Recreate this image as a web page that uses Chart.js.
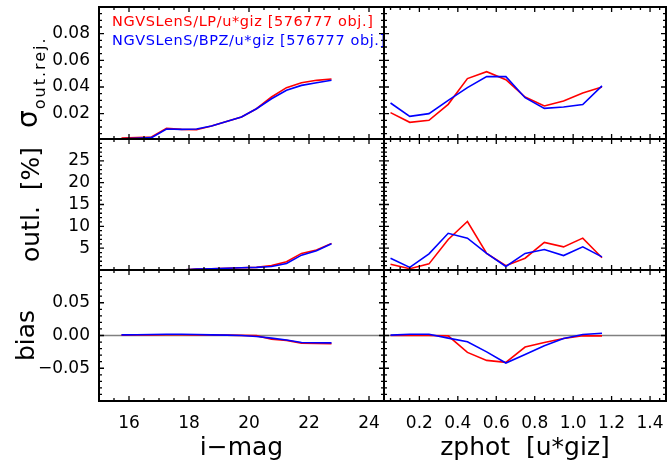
<!DOCTYPE html>
<html>
<head>
<meta charset="utf-8">
<script src="https://cdn.jsdelivr.net/npm/chart.js@4.4.1/dist/chart.umd.min.js"></script>
<style>
  html, body { margin: 0; padding: 0; background: #fff; }
  #fig { position: relative; width: 667px; height: 466px; }
  #fig canvas { position: absolute; left: 0; top: 0; }
</style>
</head>
<body>
<div id="fig"></div>
<script>
// i-mag bins (left column) and zphot bins (right column)
const magBins = [15.75, 16.25, 16.75, 17.25, 17.75, 18.25, 18.75, 19.25, 19.75, 20.25, 20.75, 21.25, 21.75, 22.25, 22.75];
const zBins = [0.05, 0.15, 0.25, 0.35, 0.45, 0.55, 0.65, 0.75, 0.85, 0.95, 1.05, 1.15];

const legendLabels = ['NGVSLenS/LP/u*giz [576777 obj.]', 'NGVSLenS/BPZ/u*giz [576777 obj.]'];

// sigma (outlier rejected)
const sigmaMagLP  = [0.0017, 0.0020, 0.0025, 0.0090, 0.0082, 0.0080, 0.0107, 0.0142, 0.0175, 0.0237, 0.0325, 0.0395, 0.0432, 0.0450, 0.0460];
const sigmaMagBPZ = [0.0012, 0.0015, 0.0020, 0.0085, 0.0082, 0.0085, 0.0107, 0.0142, 0.0175, 0.0237, 0.0312, 0.0375, 0.0412, 0.0432, 0.0450];
const sigmaZLP    = [0.0208, 0.0135, 0.0150, 0.0270, 0.0463, 0.0515, 0.0455, 0.0325, 0.0258, 0.0295, 0.0355, 0.0400];
const sigmaZBPZ   = [0.0280, 0.0180, 0.0200, 0.0300, 0.0395, 0.0478, 0.0478, 0.0320, 0.0240, 0.0250, 0.0268, 0.0408];

// outlier fraction [%]
const outlMagLP  = [0, 0, 0, 0, 0, 0.2, 0.3, 0.4, 0.5, 0.6, 1.0, 1.9, 3.8, 4.6, 6.1];
const outlMagBPZ = [0, 0, 0, 0, 0, 0.2, 0.3, 0.4, 0.5, 0.6, 0.8, 1.5, 3.4, 4.4, 6.0];
const outlZLP    = [1.3, 0.3, 1.4, 7.0, 11.1, 3.8, 1.0, 2.7, 6.3, 5.3, 7.3, 2.8];
const outlZBPZ   = [2.7, 0.6, 3.7, 8.4, 7.3, 3.8, 0.8, 3.8, 4.7, 3.3, 5.3, 3.0];

// bias
const biasMagLP  = [0.0005, 0.0008, 0.0010, 0.0012, 0.0012, 0.0010, 0.0008, 0.0005, 0.0002, -0.0002, -0.0058, -0.0075, -0.0116, -0.0120, -0.0124];
const biasMagBPZ = [0.0010, 0.0012, 0.0015, 0.0018, 0.0018, 0.0015, 0.0010, 0.0005, 0.0000, -0.0015, -0.0040, -0.0068, -0.0106, -0.0110, -0.0112];
const biasZLP    = [0.0000, 0.0000, 0.0000, -0.0005, -0.0258, -0.0380, -0.0410, -0.0177, -0.0106, -0.0045, -0.0005, -0.0005];
const biasZBPZ   = [0.0005, 0.0020, 0.0020, -0.0040, -0.0096, -0.0250, -0.0420, -0.0290, -0.0157, -0.0045, 0.0015, 0.0035];

// tick labels
const magTicks = [16, 18, 20, 22, 24];
const zTicks = [0.2, 0.4, 0.6, 0.8, 1.0, 1.2, 1.4];
const sigmaTicks = [0.02, 0.04, 0.06, 0.08];
const outlTicks = [5, 10, 15, 20, 25];
const biasTicks = [-0.05, 0, 0.05];

Chart.defaults.font.family = "'DejaVu Sans', sans-serif";
Chart.defaults.color = '#000';

const FIG_W = 667, FIG_H = 466;
const COLS = [[99, 384], [384, 666]];
const ROWS = [[7, 139], [139, 270], [270, 401]];

function stepValues(min, max, step) {
    const out = [];
    const n0 = Math.ceil(min / step - 1e-6), n1 = Math.floor(max / step + 1e-6);
    for (let n = n0; n <= n1; n++) out.push(n * step);
    return out;
}

// IDL-like box: inward major/minor ticks on all four sides, zero line, legend, sigma title
const idlFrame = {
    id: 'idlFrame',
    beforeDatasetsDraw(chart, args, opts) {
        if (!opts.zeroLine) return;
        const { ctx, chartArea: a } = chart;
        const py = chart.scales.y.getPixelForValue(0);
        ctx.save();
        ctx.strokeStyle = '#808080';
        ctx.lineWidth = 1.5;
        ctx.beginPath();
        ctx.moveTo(a.left, py);
        ctx.lineTo(a.right, py);
        ctx.stroke();
        ctx.restore();
    },
    afterDatasetsDraw(chart, args, opts) {
        const { ctx, chartArea: a, scales: { x, y } } = chart;
        ctx.save();
        ctx.strokeStyle = '#000';
        ctx.lineWidth = 1.3;
        ctx.beginPath();
        for (const [step, len] of [[opts.xMajor, 5], [opts.xMinor, 3]]) {
            for (const v of stepValues(x.min, x.max, step)) {
                const px = x.getPixelForValue(v);
                ctx.moveTo(px, a.bottom); ctx.lineTo(px, a.bottom - len);
                ctx.moveTo(px, a.top); ctx.lineTo(px, a.top + len);
            }
        }
        for (const [step, len] of [[opts.yMajor, 5], [opts.yMinor, 3]]) {
            for (const v of stepValues(y.min, y.max, step)) {
                const py = y.getPixelForValue(v);
                ctx.moveTo(a.left, py); ctx.lineTo(a.left + len, py);
                ctx.moveTo(a.right, py); ctx.lineTo(a.right - len, py);
            }
        }
        ctx.stroke();
        ctx.lineWidth = 2;
        ctx.strokeRect(a.left, a.top, a.right - a.left, a.bottom - a.top);

        ctx.textAlign = 'left';
        ctx.textBaseline = 'alphabetic';
        if (opts.legend) {
            ctx.font = "14.5px 'DejaVu Sans'";
            ctx.letterSpacing = '0.6px';
            chart.data.datasets.forEach((ds, i) => {
                ctx.fillStyle = ds.borderColor;
                ctx.fillText(ds.label, a.left + 13, a.top + 18.5 + i * 19);
            });
        }
        if (opts.sigmaTitle) {
            ctx.fillStyle = '#000';
            ctx.translate(37, a.bottom - 11);
            ctx.rotate(-Math.PI / 2);
            ctx.letterSpacing = '0px';
            ctx.font = "28px 'DejaVu Sans'";
            ctx.fillText('σ', 0, 0);
            const w = ctx.measureText('σ').width;
            ctx.font = "16px 'DejaVu Sans'";
            ctx.letterSpacing = '2px';
            ctx.fillText('out.rej.', w + 1, 8);
        }
        ctx.restore();
    }
};

const magAxis = { bins: magBins, min: 15, max: 24.5, ticks: magTicks, major: 2, minor: 0.5,
    fmt: v => String(v), title: 'i\u2212mag' };
const zAxis = { bins: zBins, min: 0.016, max: 1.483, ticks: zTicks, major: 0.2, minor: 0.05,
    fmt: v => v.toFixed(1), title: 'zphot  [u*giz]' };

const rowsCfg = [
    { min: 0.001, max: 0.1, ticks: sigmaTicks, major: 0.02, minor: 0.005, fmt: v => v.toFixed(2),
      title: '', titlePad: 0, sigma: true,
      series: [[sigmaMagLP, sigmaMagBPZ], [sigmaZLP, sigmaZBPZ]] },
    { min: 0, max: 30, ticks: outlTicks, major: 5, minor: 1, fmt: v => String(v),
      title: 'outl.  [%]', titlePad: 17,
      series: [[outlMagLP, outlMagBPZ], [outlZLP, outlZBPZ]] },
    { min: -0.1, max: 0.1, ticks: biasTicks, major: 0.05, minor: 0.01, fmt: v => v.toFixed(2).replace('-', '\u2212'),
      title: 'bias', titlePad: 12, zero: true,
      series: [[biasMagLP, biasMagBPZ], [biasZLP, biasZBPZ]] }
];

const fig = document.getElementById('fig');

function addPanel(row, col) {
    const r = rowsCfg[row];
    const xa = col === 0 ? magAxis : zAxis;
    const [left, right] = COLS[col];
    const [top, bottom] = ROWS[row];
    const bottomRow = row === 2, leftCol = col === 0;
    const [lp, bpz] = r.series[col];

    const canvas = document.createElement('canvas');
    canvas.width = FIG_W;
    canvas.height = FIG_H;
    fig.appendChild(canvas);

    return new Chart(canvas, {
        type: 'line',
        data: {
            datasets: [
                // blue (BPZ) drawn over red (LP)
                { label: legendLabels[0], data: xa.bins.map((v, i) => ({ x: v, y: lp[i] })), borderColor: '#ff0000', order: 1 },
                { label: legendLabels[1], data: xa.bins.map((v, i) => ({ x: v, y: bpz[i] })), borderColor: '#0000ff', order: 0 }
            ]
        },
        options: {
            responsive: false,
            animation: false,
            events: [],
            layout: {
                autoPadding: false,
                padding: { left: leftCol ? 0 : left, right: FIG_W - right, top: top, bottom: bottomRow ? 0 : FIG_H - bottom }
            },
            elements: {
                line: { borderWidth: 1.6, tension: 0, fill: false },
                point: { radius: 0 }
            },
            plugins: {
                legend: { display: false },
                tooltip: { enabled: false },
                idlFrame: {
                    xMajor: xa.major, xMinor: xa.minor, yMajor: r.major, yMinor: r.minor,
                    zeroLine: !!r.zero, legend: row === 0 && leftCol, sigmaTitle: r.sigma && leftCol
                }
            },
            scales: {
                x: {
                    type: 'linear',
                    position: 'bottom',
                    min: xa.min,
                    max: xa.max,
                    grid: { display: false, drawTicks: false },
                    border: { display: false },
                    afterBuildTicks: s => { s.ticks = xa.ticks.map(value => ({ value })); },
                    ticks: { display: bottomRow, padding: 12, autoSkip: false, maxRotation: 0,
                             font: { size: 17 }, callback: v => xa.fmt(v) },
                    title: { display: bottomRow, text: xa.title, font: { size: 25 }, padding: { top: 0, bottom: 3 } },
                    afterFit: s => {
                        s.height = bottomRow ? FIG_H - bottom : 0;
                        s.paddingLeft = 0; s.paddingRight = 0;
                    }
                },
                y: {
                    type: 'linear',
                    position: 'left',
                    min: r.min,
                    max: r.max,
                    grid: { display: false, drawTicks: false },
                    border: { display: false },
                    afterBuildTicks: s => { s.ticks = r.ticks.map(value => ({ value })); },
                    ticks: { display: leftCol, padding: 9, autoSkip: false,
                             font: { size: 17 }, callback: v => r.fmt(v) },
                    title: { display: leftCol && !!r.title, text: r.title, font: { size: 25 },
                             padding: { top: r.titlePad, bottom: 0 } },
                    afterFit: s => {
                        s.width = leftCol ? left : 0;
                        s.paddingTop = 0; s.paddingBottom = 0;
                    }
                }
            }
        },
        plugins: [idlFrame]
    });
}

for (let row = 0; row < 3; row++) {
    for (let col = 0; col < 2; col++) addPanel(row, col);
}
</script>
</body>
</html>
